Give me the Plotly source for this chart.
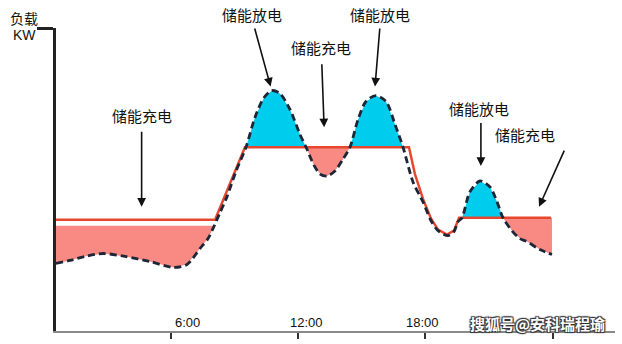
import numpy as np
import plotly.graph_objects as go

# Typical daily load profile (hours, load in relative units)
load_hours = [0.59, 1.25, 1.96, 2.81, 3.85, 5.02, 6.11, 6.77, 7.38, 7.76, 7.99, 8.32,
              8.65, 9.08, 9.55, 9.97, 10.40, 10.77, 11.15, 11.62, 12.09, 12.38, 12.75,
              13.04, 13.37, 13.74, 14.12, 14.45, 14.83, 15.20, 15.67, 16.15, 16.57,
              16.95, 17.42, 17.89, 18.27, 18.60, 19.07, 19.35, 19.54, 19.73, 20.10,
              20.58, 21.05, 21.38, 21.66, 22.08, 22.46, 22.79, 23.40, 23.97]
load_values = [68, 71, 75, 78, 75, 70, 64, 67, 83, 93, 103, 119,
               135, 161, 185, 215, 235, 242, 239, 223, 198, 185, 167,
               158, 156, 161, 173, 185, 213, 231, 237, 231, 208,
               185, 150, 130, 111, 101, 96, 100, 110, 114, 140,
               151, 145, 130, 114, 101, 93, 90, 82, 77]

# Grid supply after storage dispatch
grid_hours = [0.59, 8.09, 9.50, 17.23, 17.51, 17.89, 18.27, 18.60, 19.02, 19.35, 19.59, 23.92]
grid_values = [112, 112, 185, 185, 158, 133, 113, 102, 97, 101, 114, 114]

# Storage windows: (start, end, threshold, mode)
windows = [
    (0.59, 8.05, 106, "charge"),
    (9.55, 12.38, 185, "discharge"),
    (12.38, 14.45, 185, "charge"),
    (14.45, 16.95, 185, "discharge"),
    (19.73, 21.66, 114, "discharge"),
    (21.66, 23.97, 114, "charge"),
]

tick_hours = [6, 12, 18, 24]
tick_labels = ["6:00", "12:00", "18:00", ""]
label_hours = [6.77, 12.42, 17.87]

# Callouts: text, text reference frame, text position, arrow tail, arrow head
callout_text = ["储能充电", "储能放电", "储能充电", "储能放电", "储能放电", "储能充电"]
callout_ref = ["data", "paper", "data", "paper", "data", "data"]
callout_pos = [(4.65, 217), (0.3501, 1.0443), (13.08, 285), (0.5796, 1.0443),
               (20.55, 224), (22.70, 198)]
arrow_tail = [(4.63, 202), (9.94, 306), (13.12, 270), (15.86, 306), (20.62, 211), (24.58, 183)]
arrow_head = [(4.63, 125), (10.71, 246), (13.23, 205), (15.63, 246), (20.62, 166), (23.36, 125)]

CYAN = "#00CCEE"
PINK = "#F98A83"
RED = "#E6472F"
NAVY = "#1C2637"
CJK = "Noto Sans CJK SC"

lh = np.array(load_hours)
lv = np.array(load_values, dtype=float)

fig = go.Figure()

for a, b, thr, mode in windows:
    inside = (lh > a) & (lh < b)
    xs = [a] + list(lh[inside]) + [b]
    ys = [float(np.interp(a, lh, lv))] + list(lv[inside]) + [float(np.interp(b, lh, lv))]
    if mode == "charge":
        ys = [min(y, thr) for y in ys]
    else:
        ys = [max(y, thr) for y in ys]
    px = xs + [b, a, a]
    py = ys + [thr, thr, ys[0]]
    fig.add_trace(go.Scatter(
        x=px, y=py, mode="lines", fill="toself",
        fillcolor=CYAN if mode == "discharge" else PINK,
        line=dict(width=0), hoverinfo="skip", showlegend=False))

fig.add_trace(go.Scatter(
    x=grid_hours, y=grid_values, mode="lines",
    line=dict(color=RED, width=2.5), showlegend=False))

fig.add_trace(go.Scatter(
    x=load_hours, y=load_values, mode="lines",
    line=dict(color=NAVY, width=2.8, dash="7px,4px", shape="spline", smoothing=0.8),
    showlegend=False))

annotations = []
for txt, ref, (tx, ty) in zip(callout_text, callout_ref, callout_pos):
    r = ("x", "y") if ref == "data" else ("paper", "paper")
    annotations.append(dict(x=tx, y=ty, xref=r[0], yref=r[1], text=txt, showarrow=False,
                            xanchor="center", yanchor="middle",
                            font=dict(family=CJK, size=15, color="#111111")))
for (ax_, ay_), (hx, hy) in zip(arrow_tail, arrow_head):
    annotations.append(dict(x=hx, y=hy, ax=ax_, ay=ay_, xref="x", yref="y",
                            axref="x", ayref="y", text="", showarrow=True,
                            arrowhead=2, arrowsize=1.1, arrowwidth=1.6,
                            arrowcolor="#111111"))
for lbl, hx in zip(tick_labels, label_hours):
    annotations.append(dict(x=hx, y=9, xref="x", yref="y", text=lbl, showarrow=False,
                            xanchor="center", yanchor="middle",
                            font=dict(family="Liberation Sans, Arial", size=13,
                                      color="#111111")))
# Axis title: unit label stacked at the top-left corner
annotations.append(dict(x=-0.0572, y=1.0344, xref="paper", yref="paper",
                        text="负载", showarrow=False, xanchor="center",
                        yanchor="middle", borderpad=0,
                        font=dict(family=CJK, size=14, color="#111111")))
annotations.append(dict(x=-0.0572, y=0.9754, xref="paper", yref="paper",
                        text="KW", showarrow=False, xanchor="center",
                        yanchor="middle", borderpad=0,
                        font=dict(family="Liberation Sans, Arial", size=14,
                                  color="#111111")))
annotations.append(dict(x=0.8605, y=0.026, xref="paper", yref="paper",
                        text="<b>搜狐号@安科瑞程瑜</b>", showarrow=False,
                        xanchor="center", yanchor="middle",
                        font=dict(family=CJK, size=15, color="white",
                                  shadow="1px 1px 1px #333, -1px -1px 1px #333, 1px -1px 1px #333, -1px 1px 1px #333")))

fig.update_layout(
    width=622, height=344,
    margin=dict(l=56, r=7, t=28, b=11),
    paper_bgcolor="white", plot_bgcolor="white",
    annotations=annotations,
    xaxis=dict(range=[0.594, 26.94], showgrid=False, zeroline=False,
               showline=True, linecolor="#8A8A8A", linewidth=2,
               tickvals=tick_hours, ticktext=["", "", "", ""],
               ticks="outside", ticklen=6, tickwidth=1.5, tickcolor="#333333"),
    yaxis=dict(range=[0, 305], showgrid=False, zeroline=False,
               showline=True, linecolor="#222222", linewidth=3,
               tickvals=[305], ticktext=[""], ticks="outside", ticklen=16,
               tickwidth=3, tickcolor="#222222"),
)

fig.write_html("out.html")
